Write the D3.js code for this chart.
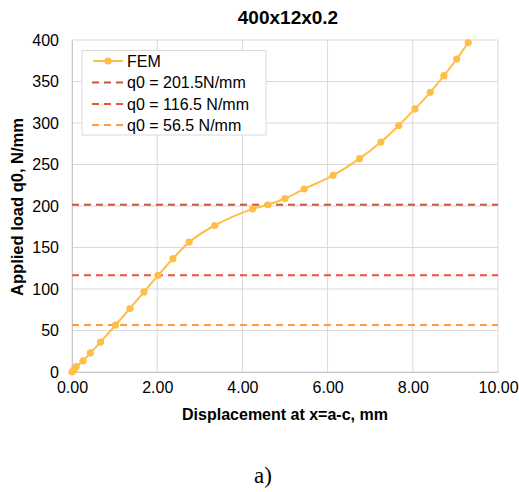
<!DOCTYPE html>
<html><head><meta charset="utf-8">
<script src="https://cdn.jsdelivr.net/npm/d3@7"></script>
<style>body{margin:0;background:#fff}svg{display:block}text{font-family:"Liberation Sans",Arial,sans-serif}</style>
</head><body><svg id="c" width="519" height="492"></svg>
<script>
const femX = [0, 0.05, 0.1, 0.26, 0.43, 0.67, 1.02, 1.36, 1.69, 2.02, 2.37, 2.75, 3.35, 4.24, 4.6, 5.0, 5.45, 6.13, 6.75, 7.25, 7.67, 8.05, 8.41, 8.73, 9.03, 9.30];
const femY = [0, 3, 6.5, 13.5, 23, 36, 56.5, 76.5, 96.5, 116.5, 136.5, 156.5, 176.5, 196.5, 201.5, 209, 220.5, 237, 257, 277, 297, 317, 337, 357, 377, 397];
const refLoads = [201.5, 116.5, 56.5];
const refLabels = ["q0 = 201.5N/mm", "q0 = 116.5 N/mm", "q0 = 56.5 N/mm"];
const refColors = ["#C9553A", "#F0532F", "#FF9B45"];
const xTicks = [0, 2, 4, 6, 8, 10];
const yTicks = [0, 50, 100, 150, 200, 250, 300, 350, 400];
const femColor = "#FFBE48";

const svg = d3.select("#c");
const L = 72, R = 498, T = 40, B = 372;
const x = d3.scaleLinear().domain([0, 10]).range([L, R]);
const y = d3.scaleLinear().domain([0, 400]).range([B, T]);

// grid
const grid = svg.append("g");
grid.selectAll("line.h").data(yTicks).join("line")
  .attr("x1", L).attr("x2", R).attr("y1", d => y(d)).attr("y2", d => y(d))
  .attr("stroke", "#D9D9D9").attr("stroke-width", 1);
grid.selectAll("line.v").data(xTicks).join("line")
  .attr("y1", T).attr("y2", B).attr("x1", d => x(d)).attr("x2", d => x(d))
  .attr("stroke", "#D9D9D9").attr("stroke-width", 1);

// axes
const xAxis = svg.append("g").attr("transform", `translate(0,${B})`)
  .call(d3.axisBottom(x).tickValues(xTicks).tickFormat(d3.format(".2f")).tickSize(0).tickPadding(10));
const yAxis = svg.append("g").attr("transform", `translate(${L},0)`)
  .call(d3.axisLeft(y).tickValues(yTicks).tickSize(0).tickPadding(13));
[xAxis, yAxis].forEach(a => {
  a.select(".domain").attr("stroke", "#C8C8C8");
  a.selectAll("text").attr("font-size", 16).attr("fill", "#000");
});

// reference lines
svg.append("g").selectAll("line").data(refLoads).join("line")
  .attr("x1", L).attr("x2", R).attr("y1", d => y(d)).attr("y2", d => y(d))
  .attr("stroke", (d, i) => refColors[i]).attr("stroke-width", 2)
  .attr("stroke-dasharray", "7,5");

// FEM
const pts = femX.map((v, i) => [v, femY[i]]);
svg.append("path").datum(pts)
  .attr("d", d3.line().x(d => x(d[0])).y(d => y(d[1])).curve(d3.curveCatmullRom.alpha(0.5)))
  .attr("fill", "none").attr("stroke", femColor).attr("stroke-width", 2);
svg.append("g").selectAll("circle").data(pts).join("circle")
  .attr("cx", d => x(d[0])).attr("cy", d => y(d[1])).attr("r", 3.6).attr("fill", femColor);

// title
svg.append("text").attr("x", 288).attr("y", 24).attr("text-anchor", "middle")
  .attr("font-size", 19).attr("font-weight", "bold").text("400x12x0.2");

// axis titles
svg.append("text").attr("x", 285).attr("y", 420).attr("text-anchor", "middle")
  .attr("font-size", 16).attr("font-weight", "bold").text("Displacement at x=a-c, mm");
svg.append("text").attr("transform", "translate(23,207) rotate(-90)").attr("text-anchor", "middle")
  .attr("font-size", 16.5).attr("font-weight", "bold").text("Applied load q0, N/mm");

// caption
svg.append("text").attr("x", 263).attr("y", 483).attr("text-anchor", "middle")
  .style("font-family", "'Liberation Serif','Times New Roman',serif").attr("font-size", 23).text("a)");

// legend
const lg = svg.append("g");
lg.append("rect").attr("x", 82).attr("y", 50.5).attr("width", 184).attr("height", 84.5)
  .attr("fill", "#fff").attr("stroke", "#D9D9D9");
const rowsY = [61, 82.5, 104, 125];
lg.append("line").attr("x1", 93).attr("x2", 123).attr("y1", rowsY[0]).attr("y2", rowsY[0])
  .attr("stroke", femColor).attr("stroke-width", 2);
lg.append("circle").attr("cx", 108).attr("cy", rowsY[0]).attr("r", 3.6).attr("fill", femColor);
lg.append("text").attr("x", 127).attr("y", rowsY[0]).attr("dy", "0.36em").attr("font-size", 16).text("FEM");
refLabels.forEach((t, i) => {
  const yy = rowsY[i + 1];
  lg.append("line").attr("x1", 92).attr("x2", 124).attr("y1", yy).attr("y2", yy)
    .attr("stroke", refColors[i]).attr("stroke-width", 2).attr("stroke-dasharray", "7,5");
  lg.append("text").attr("x", 127).attr("y", yy).attr("dy", "0.36em").attr("font-size", 16).text(t);
});
</script></body></html>
